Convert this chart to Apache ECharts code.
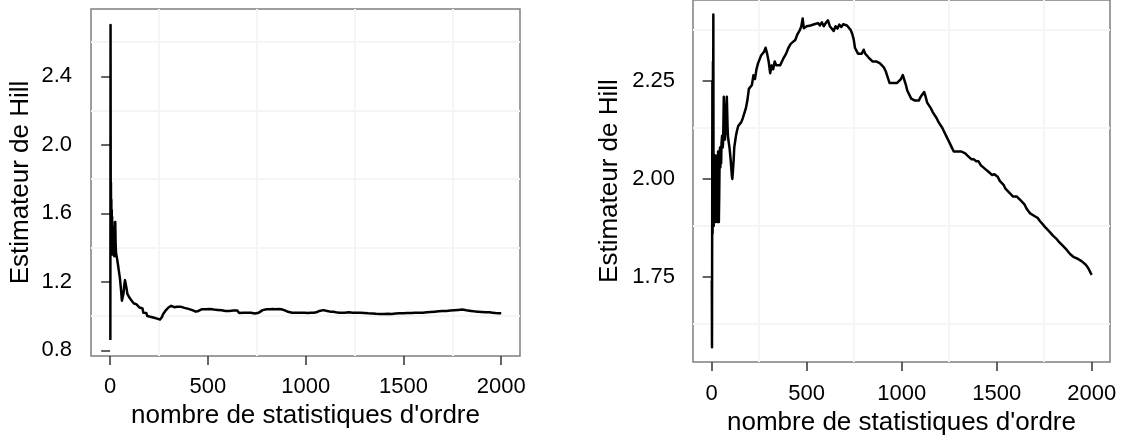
<!DOCTYPE html>
<html>
<head>
<meta charset="utf-8">
<script src="https://cdn.jsdelivr.net/npm/echarts@6/dist/echarts.min.js"></script>
<style>
html,body{margin:0;padding:0;background:#fff;}
#chart{width:1121px;height:441px;}
</style>
</head>
<body>
<div id="chart"></div>
<script>
// ---- data ----
const xTitle = "nombre de statistiques d'ordre";
const yTitle = "Estimateur de Hill";

const ticksX = [0, 500, 1000, 1500, 2000];
const ticksYLeft = [0.8, 1.2, 1.6, 2.0, 2.4];
const ticksYRight = [1.75, 2.00, 2.25];
const gridX = [250, 750, 1250, 1750];
const gridYLeft = [1.0, 1.4, 1.8, 2.2, 2.6];
const gridYRight = [1.625, 1.875, 2.125, 2.375];

// left panel (one row = 10 points, same layout in both arrays)
const kLeft = [
  1,2,3,4,5,6,7,8,9,10,
  11,12,13,14,15,16,17,18,19,20,
  21,22,23,24,25,26,28,30,33,36,
  40,45,50,55,60,64,68,72,76,80,
  84,88,92,96,100,105,110,115,120,125,
  130,135,140,145,150,155,160,165,170,175,
  180,185,190,195,200,210,218,225,232,240,
  248,255,260,265,270,275,282,290,298,305,
  312,320,328,335,342,350,360,370,380,390,
  400,410,420,430,438,445,452,460,470,480,
  490,500,510,520,530,540,550,560,570,580,
  590,600,610,620,630,640,650,660,670,680,
  690,700,710,720,730,740,750,760,770,780,
  790,800,815,830,845,860,875,890,900,910,
  920,930,940,950,965,980,995,1010,1025,1040,
  1055,1070,1080,1090,1100,1110,1125,1140,1155,1170,
  1185,1200,1220,1240,1260,1280,1300,1320,1340,1360,
  1380,1400,1420,1440,1460,1480,1500,1520,1540,1560,
  1580,1600,1620,1640,1660,1680,1700,1720,1740,1760,
  1780,1800,1815,1830,1845,1860,1880,1900,1920,1940,
  1955,1970,1985,2000
];
const hillLeft = [
  0.86,2.70,1.55,1.78,1.42,1.68,1.38,1.62,1.45,1.58,
  1.36,1.55,1.40,1.52,1.37,1.48,1.36,1.50,1.38,1.45,
  1.35,1.46,1.37,1.50,1.38,1.55,1.42,1.37,1.35,1.33,
  1.30,1.26,1.22,1.16,1.09,1.08,1.13,1.18,1.21,1.20,
  1.16,1.13,1.12,1.125,1.105,1.10,1.09,1.085,1.075,1.08,
  1.07,1.068,1.06,1.062,1.05,1.048,1.04,1.045,1.02,1.03,
  1.025,1.018,1.00,1.01,1.005,0.995,1.0,0.99,0.992,0.985,
  0.988,0.98,0.99,0.995,1.01,1.02,1.03,1.04,1.05,1.055,
  1.06,1.06,1.052,1.05,1.055,1.05,1.055,1.055,1.048,1.045,
  1.042,1.04,1.035,1.03,1.026,1.025,1.03,1.04,1.04,1.042,
  1.04,1.045,1.042,1.04,1.038,1.04,1.036,1.035,1.034,1.035,
  1.03,1.032,1.03,1.035,1.033,1.03,1.032,1.018,1.012,1.02,
  1.02,1.02,1.018,1.02,1.016,1.015,1.018,1.02,1.022,1.035,
  1.038,1.04,1.04,1.042,1.04,1.042,1.04,1.035,1.03,1.025,
  1.022,1.02,1.022,1.02,1.02,1.02,1.02,1.018,1.02,1.02,
  1.022,1.03,1.035,1.035,1.032,1.03,1.026,1.025,1.022,1.02,
  1.02,1.02,1.022,1.02,1.02,1.02,1.018,1.016,1.015,1.013,
  1.012,1.012,1.013,1.012,1.015,1.016,1.016,1.018,1.018,1.02,
  1.02,1.02,1.022,1.024,1.026,1.028,1.03,1.03,1.032,1.034,
  1.036,1.038,1.035,1.032,1.03,1.028,1.026,1.024,1.022,1.022,
  1.02,1.018,1.017,1.016
];

// right panel (one row = 10 points, same layout in both arrays)
const kRight = [
  1,2,3,4,5,6,7,8,9,10,
  11,12,13,14,15,16,17,18,19,20,
  21,22,23,24,26,28,30,32,34,36,
  38,40,42,44,46,48,50,52,55,58,
  60,62,64,66,68,70,72,74,76,78,
  80,82,84,86,88,91,94,97,100,103,
  106,109,112,116,119,122,125,128,132,136,
  140,148,156,164,172,180,188,196,204,212,
  220,228,236,244,252,260,268,276,284,292,
  300,308,316,324,332,340,350,360,370,380,
  392,404,416,428,440,452,464,472,479,485,
  492,500,510,520,530,540,550,560,570,580,
  590,600,612,622,632,642,652,662,672,682,
  692,702,712,722,732,740,748,754,762,770,
  780,790,800,808,816,826,836,846,856,866,
  876,886,896,906,916,926,936,946,956,966,
  976,986,996,1006,1014,1022,1030,1040,1050,1060,
  1070,1080,1090,1100,1110,1118,1126,1134,1144,1154,
  1164,1174,1184,1194,1204,1214,1224,1234,1244,1254,
  1264,1274,1284,1294,1304,1314,1324,1334,1344,1356,
  1368,1380,1392,1404,1416,1428,1440,1452,1464,1476,
  1488,1496,1506,1516,1526,1536,1546,1556,1566,1576,
  1586,1596,1606,1616,1626,1636,1646,1656,1666,1676,
  1686,1696,1706,1716,1726,1736,1746,1756,1766,1776,
  1786,1796,1806,1816,1826,1836,1846,1856,1866,1876,
  1886,1896,1906,1916,1926,1936,1946,1956,1966,1976,
  1986,1994,2000
];
const hillRight = [
  1.74,1.57,1.92,2.25,1.86,1.95,2.30,2.10,2.42,1.95,
  1.88,2.00,2.05,1.93,1.89,1.99,2.06,1.92,1.89,2.02,
  2.06,1.95,1.90,2.03,2.00,1.92,1.89,1.97,2.07,1.96,
  1.89,1.96,2.05,2.08,2.03,2.07,2.04,2.09,2.11,2.08,
  2.09,2.14,2.21,2.15,2.12,2.10,2.10,2.13,2.16,2.19,
  2.21,2.17,2.13,2.11,2.10,2.09,2.08,2.065,2.05,2.03,
  2.01,2.00,2.02,2.05,2.08,2.09,2.10,2.11,2.12,2.125,
  2.135,2.14,2.145,2.155,2.16,2.18,2.20,2.23,2.225,2.24,
  2.265,2.255,2.28,2.295,2.30,2.315,2.31,2.325,2.335,2.32,
  2.30,2.27,2.29,2.28,2.30,2.29,2.295,2.29,2.30,2.31,
  2.32,2.335,2.345,2.35,2.355,2.37,2.38,2.39,2.41,2.385,
  2.38,2.39,2.385,2.392,2.388,2.395,2.39,2.398,2.392,2.40,
  2.39,2.398,2.405,2.39,2.385,2.378,2.39,2.384,2.394,2.388,
  2.395,2.39,2.392,2.386,2.38,2.37,2.355,2.335,2.33,2.32,
  2.325,2.32,2.33,2.32,2.315,2.31,2.315,2.30,2.305,2.30,
  2.30,2.295,2.30,2.285,2.275,2.26,2.245,2.25,2.245,2.24,
  2.245,2.25,2.255,2.265,2.26,2.24,2.225,2.22,2.205,2.205,
  2.20,2.205,2.20,2.21,2.215,2.222,2.21,2.195,2.19,2.18,
  2.17,2.165,2.155,2.145,2.14,2.13,2.12,2.11,2.10,2.09,
  2.08,2.07,2.075,2.07,2.075,2.07,2.065,2.065,2.06,2.055,
  2.05,2.05,2.045,2.045,2.035,2.03,2.025,2.02,2.015,2.01,
  2.012,2.015,2.005,1.995,1.99,1.985,1.975,1.97,1.965,1.96,
  1.955,1.958,1.955,1.952,1.945,1.94,1.935,1.925,1.918,1.912,
  1.91,1.906,1.905,1.90,1.893,1.888,1.882,1.876,1.872,1.866,
  1.862,1.855,1.85,1.846,1.84,1.835,1.83,1.826,1.82,1.814,
  1.808,1.803,1.80,1.798,1.796,1.793,1.79,1.786,1.782,1.776,
  1.768,1.76,1.755
];

// ---- chart ----
const FONT = 'Liberation Sans, Arial, Helvetica, sans-serif';
const zip = (a, b) => a.map((v, i) => [v, b[i]]);

function xAxisCfg(gridIndex, labelMargin, nameGap) {
  return {
    type: 'value', gridIndex: gridIndex, min: -98, max: 2096,
    name: xTitle, nameLocation: 'middle', nameGap: nameGap,
    nameTextStyle: {fontFamily: FONT, fontSize: 26, color: '#000'},
    axisLine: {show: false},
    axisTick: {show: true, length: 9, customValues: ticksX, lineStyle: {color: '#333', width: 1.5}},
    axisLabel: {show: true, customValues: ticksX, margin: labelMargin, fontFamily: FONT, fontSize: 22, color: '#000',
      formatter: v => String(v)},
    splitLine: {show: false}
  };
}
function yAxisCfg(gridIndex, min, max, ticks, digits, labelMargin, nameGap) {
  return {
    type: 'value', gridIndex: gridIndex, min: min, max: max,
    name: yTitle, nameLocation: 'middle', nameGap: nameGap,
    nameTextStyle: {fontFamily: FONT, fontSize: 26, color: '#000'},
    axisLine: {show: false},
    axisTick: {show: true, length: 9, customValues: ticks, lineStyle: {color: '#333', width: 1.5}},
    axisLabel: {show: true, customValues: ticks, margin: labelMargin, fontFamily: FONT, fontSize: 22, color: '#000',
      formatter: v => Number(v).toFixed(digits)},
    splitLine: {show: false}
  };
}
function gridSeries(idx, gx, gy) {
  return {
    type: 'line', xAxisIndex: idx, yAxisIndex: idx, data: [], z: 1, silent: true,
    markLine: {
      silent: true, z: 1, symbol: ['none', 'none'], animation: false,
      label: {show: false},
      emphasis: {disabled: true},
      lineStyle: {color: '#f5f5f5', width: 2, type: 'solid'},
      data: gx.map(v => ({xAxis: v})).concat(gy.map(v => ({yAxis: v})))
    }
  };
}
function lineSeries(idx, ks, vs) {
  return {
    type: 'line', xAxisIndex: idx, yAxisIndex: idx, z: 10,
    data: zip(ks, vs), showSymbol: false, symbol: 'none', sampling: null,
    lineStyle: {color: '#000', width: 2.5, join: 'round'}, silent: true
  };
}

const chart = echarts.init(document.getElementById('chart'), null, {renderer: 'canvas'});
chart.setOption({
  animation: false,
  backgroundColor: '#fff',
  textStyle: {fontFamily: FONT},
  grid: [
    {left: 91, top: 9, width: 429, height: 347, show: true, borderColor: '#7f7f7f', borderWidth: 1.5, backgroundColor: '#fff', containLabel: false},
    {left: 693, top: 0, width: 417, height: 365, show: true, borderColor: '#7f7f7f', borderWidth: 1.5, backgroundColor: '#fff', containLabel: false}
  ],
  xAxis: [xAxisCfg(0, 20, 41), xAxisCfg(1, 21, 43)],
  yAxis: [
    yAxisCfg(0, 0.767, 2.793, ticksYLeft, 1, 19, 57),
    yAxisCfg(1, 1.532, 2.457, ticksYRight, 2, 18, 70)
  ],
  series: [
    gridSeries(0, gridX, gridYLeft),
    gridSeries(1, gridX, gridYRight),
    lineSeries(0, kLeft, hillLeft),
    lineSeries(1, kRight, hillRight)
  ]
});
</script>
</body>
</html>
